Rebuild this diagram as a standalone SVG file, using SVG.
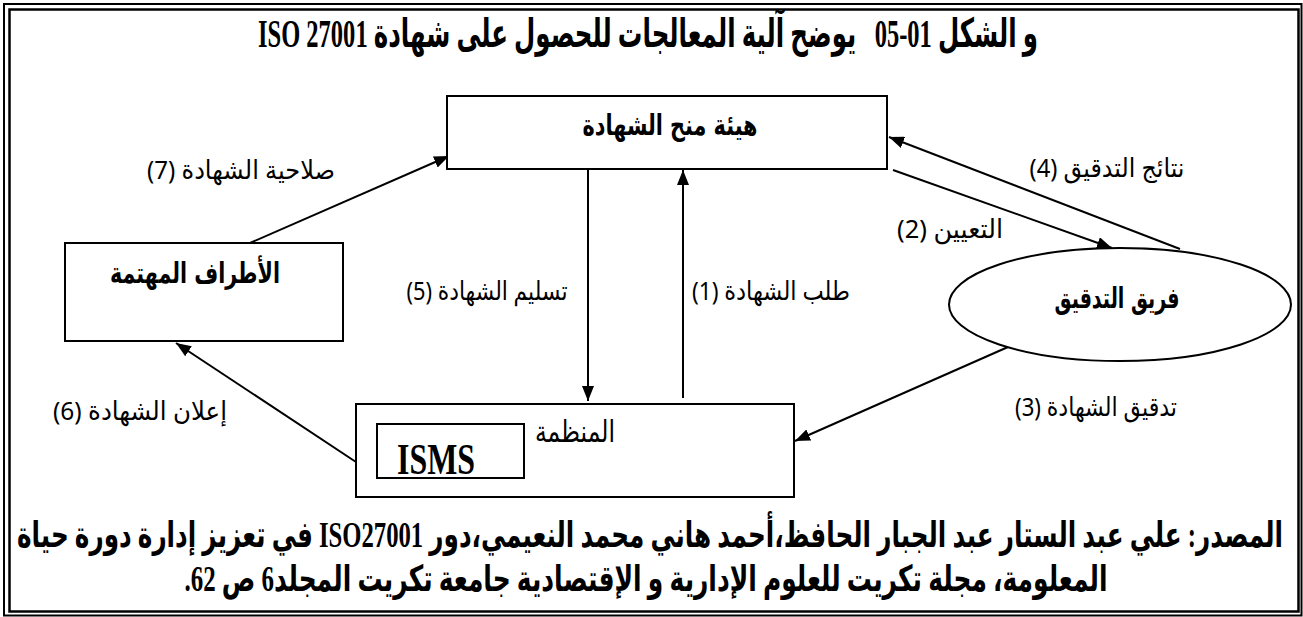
<svg xmlns="http://www.w3.org/2000/svg" width="1303" height="617" viewBox="0 0 1303 617">
<defs>
<marker id="arr" markerUnits="userSpaceOnUse" markerWidth="16" markerHeight="12" refX="15" refY="6" orient="auto">
<path d="M0,0 L15,6 L0,12 z" fill="#000"/>
</marker>
<style>
.box{fill:#fff;stroke:#000;stroke-width:2}
.ln{fill:none;stroke:#000;stroke-width:2}
.ttl{font-family:"Liberation Serif","DejaVu Sans",serif;font-weight:bold;fill:#000}
.nd{font-family:"DejaVu Sans",sans-serif;font-weight:bold;font-size:29px;fill:#000}
.lb{font-family:"Noto Sans","DejaVu Sans",sans-serif;font-size:26px;fill:#000}
</style>
</defs>
<rect x="0" y="0" width="1303" height="617" fill="#fff"/>
<rect x="4" y="4" width="1297.5" height="611.5" fill="none" stroke="#000" stroke-width="2"/>
<rect x="9.5" y="9.5" width="1289" height="602" fill="none" stroke="#000" stroke-width="2.5"/>

<text class="ttl" x="648" y="47" font-size="40" direction="rtl" text-anchor="middle" textLength="780" lengthAdjust="spacingAndGlyphs" xml:space="preserve" style="white-space:pre">و الشكل 01-05   يوضح آلية المعالجات للحصول على شهادة ISO 27001</text>

<g id="connectors">
<line class="ln" x1="250" y1="243" x2="449" y2="156" marker-end="url(#arr)"/>
<line class="ln" x1="356" y1="462" x2="176" y2="343" marker-end="url(#arr)"/>
<line class="ln" x1="588" y1="170" x2="588" y2="401" marker-end="url(#arr)"/>
<line class="ln" x1="683" y1="398" x2="683" y2="170" marker-end="url(#arr)"/>
<line class="ln" x1="893" y1="170" x2="1112" y2="248" marker-end="url(#arr)"/>
<line class="ln" x1="1180" y1="249" x2="889" y2="137" marker-end="url(#arr)"/>
<line class="ln" x1="1008" y1="347" x2="795" y2="441" marker-end="url(#arr)"/>
<text class="lb" x="241" y="179" direction="rtl" text-anchor="middle" textLength="188" lengthAdjust="spacingAndGlyphs">صلاحية الشهادة (7)</text>
<text class="lb" x="140" y="420" direction="rtl" text-anchor="middle" textLength="174" lengthAdjust="spacingAndGlyphs">إعلان الشهادة (6)</text>
<text class="lb" x="487" y="300" direction="rtl" text-anchor="middle" textLength="161" lengthAdjust="spacingAndGlyphs">تسليم الشهادة (5)</text>
<text class="lb" x="771" y="300" direction="rtl" text-anchor="middle" textLength="158" lengthAdjust="spacingAndGlyphs">طلب الشهادة (1)</text>
<text class="lb" x="1107" y="177" direction="rtl" text-anchor="middle" textLength="155" lengthAdjust="spacingAndGlyphs">نتائج التدقيق (4)</text>
<text class="lb" x="950" y="238" direction="rtl" text-anchor="middle" textLength="106" lengthAdjust="spacingAndGlyphs">التعيين (2)</text>
<text class="lb" x="1096" y="416" direction="rtl" text-anchor="middle" textLength="162" lengthAdjust="spacingAndGlyphs">تدقيق الشهادة (3)</text>
</g>

<g id="node-cert-body">
<rect class="box" x="447" y="96" width="440" height="73"/>
<text class="nd" x="670" y="135" direction="rtl" text-anchor="middle" textLength="175" lengthAdjust="spacingAndGlyphs">هيئة منح الشهادة</text>
</g>

<g id="node-stakeholders">
<rect class="box" x="65" y="243" width="278" height="98"/>
<text class="nd" x="195" y="283" direction="rtl" text-anchor="middle" textLength="170" lengthAdjust="spacingAndGlyphs">الأطراف المهتمة</text>
</g>

<g id="node-audit-team">
<ellipse class="box" cx="1120" cy="304.5" rx="171" ry="56.5"/>
<text class="nd" x="1117" y="308" direction="rtl" text-anchor="middle" textLength="125" lengthAdjust="spacingAndGlyphs">فريق التدقيق</text>
</g>

<g id="node-organization">
<rect class="box" x="356" y="404" width="438" height="93"/>
<text x="575" y="442" direction="rtl" text-anchor="middle" font-family="'DejaVu Serif','DejaVu Sans',serif" font-size="30" textLength="80" lengthAdjust="spacingAndGlyphs">المنظمة</text>
<g id="node-isms">
<rect class="box" x="377" y="424" width="147" height="54"/>
<text class="ttl" x="397" y="474" font-size="44" textLength="78" lengthAdjust="spacingAndGlyphs">ISMS</text>
</g>
</g>

<text class="ttl" x="650" y="547" font-size="36" direction="rtl" text-anchor="middle" textLength="1266" lengthAdjust="spacingAndGlyphs">المصدر: علي عبد الستار عبد الجبار الحافظ،أحمد هاني محمد النعيمي،دور ISO27001 في تعزيز إدارة دورة حياة</text>
<text class="ttl" x="646" y="591" font-size="36" direction="rtl" text-anchor="middle" textLength="923" lengthAdjust="spacingAndGlyphs">المعلومة، مجلة تكريت للعلوم الإدارية و الإقتصادية جامعة تكريت المجلد6 ص 62.</text>
</svg>
